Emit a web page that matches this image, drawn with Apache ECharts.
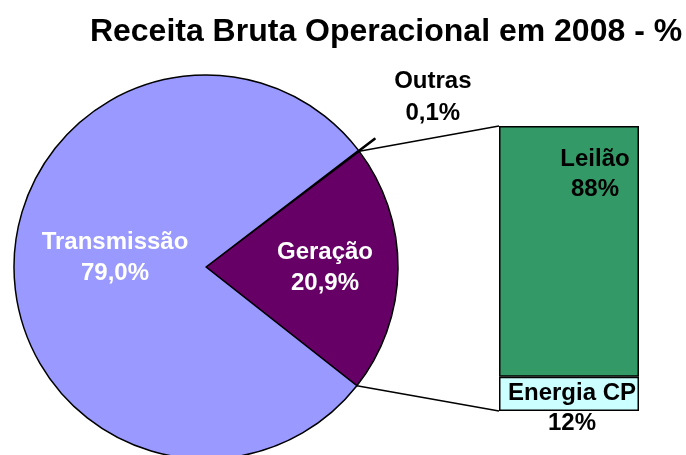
<!DOCTYPE html>
<html>
<head>
<meta charset="utf-8">
<script src="https://cdn.jsdelivr.net/npm/echarts@6/dist/echarts.min.js"></script>
<style>
  html, body { margin: 0; padding: 0; background: #fff; }
  #main { width: 686px; height: 455px; }
</style>
</head>
<body>
<div id="main"></div>
<script>
  // pie data (order = drawing order, clockwise from startAngle)
  var pieNames = ['Outras', 'Geração', 'Transmissão'];
  var pieValues = [0.1, 20.9, 79.0];
  var pieColors = ['#993366', '#660066', '#9999FF'];

  // bar data (bottom to top)
  var barNames = ['Energia CP', 'Leilão'];
  var barValues = [12, 88];
  var barColors = ['#CCFFFF', '#339966'];

  var font = '"Liberation Sans", Arial, sans-serif';
  var pieCenter = [206, 267];
  var pieRadius = 192;
  var startAngle = 37.4;
  var barGrid = {left: 499, top: 126, width: 140, height: 285};

  var myChart = echarts.init(document.getElementById('main'));

  function pctLabel (v) {
    return v.toFixed(1).replace('.', ',') + '%';
  }

  var labelRich = {
    w: {fontFamily: font, fontSize: 24, fontWeight: 'bold', lineHeight: 31, color: '#fff'},
    s: {fontSize: 4, lineHeight: 17}
  };

  // per-slice label tweaks
  var pieLabels = {
    'Outras': {
      position: 'outside',
      color: '#000',
      padding: [0, 0, 82, 8],
      formatter: function (p) {
        return '{a|' + p.name + '}\n{a|' + pctLabel(p.value) + '}';
      },
      rich: {a: {width: 90, align: 'center', fontSize: 24, fontWeight: 'bold', lineHeight: 32, color: '#000', fontFamily: font}}
    },
    'Geração': {position: 'inside', color: '#fff', padding: [0, 0, 0, 40]},
    'Transmissão': {
      position: 'inside',
      padding: [0, 0, 0, 16],
      formatter: function (p) {
        return '{w|' + p.name + '}\n{w|' + pctLabel(p.value) + '}\n{s| }';
      },
      rich: labelRich
    }
  };

  var pieData = pieNames.map(function (n, i) {
    return {
      name: n,
      value: pieValues[i],
      selected: n === 'Outras',
      itemStyle: {color: pieColors[i]},
      label: pieLabels[n]
    };
  });

  var barSeries = barNames.map(function (n, i) {
    var isTop = i === barNames.length - 1;
    return {
      name: n,
      type: 'bar',
      stack: 'cp',
      xAxisIndex: 0,
      yAxisIndex: 0,
      barWidth: '100%',
      data: [barValues[i]],
      itemStyle: {color: barColors[i], borderColor: '#000', borderWidth: 1.5},
      label: {
        show: true,
        position: isTop ? [96, 18] : 'inside',
        offset: isTop ? [0, 0] : [3, 14],
        align: 'center',
        verticalAlign: isTop ? 'top' : 'middle',
        color: '#000',
        fontFamily: font,
        fontSize: 24,
        fontWeight: 'bold',
        lineHeight: 30,
        formatter: function (p) {
          return p.seriesName + '\n' + p.value + '%';
        }
      }
    };
  });

  // connector lines from the Geração slice edges to the bar corners
  var a1 = (startAngle - 360 * pieValues[0] / 100) * Math.PI / 180;
  var a2 = a1 - (360 * pieValues[1] / 100) * Math.PI / 180;
  function piePoint (a) {
    return [pieCenter[0] + pieRadius * Math.cos(a), pieCenter[1] - pieRadius * Math.sin(a)];
  }
  var p1 = piePoint(a1);
  var p2 = piePoint(a2);

  myChart.setOption({
    animation: false,
    title: {
      text: 'Receita Bruta Operacional em 2008 - %',
      left: 381,
      top: 11,
      textAlign: 'center',
      textStyle: {fontFamily: font, fontSize: 32, fontWeight: 'bold', color: '#000'}
    },
    grid: {left: barGrid.left, top: barGrid.top, width: barGrid.width, height: barGrid.height},
    xAxis: {type: 'category', data: ['CP'], show: false},
    yAxis: {type: 'value', min: 0, max: 100, show: false},
    graphic: [
      {type: 'line', shape: {x1: p1[0], y1: p1[1], x2: barGrid.left, y2: barGrid.top}, style: {stroke: '#000', lineWidth: 1.5}, z: 0},
      {type: 'line', shape: {x1: p2[0], y1: p2[1], x2: barGrid.left, y2: barGrid.top + barGrid.height}, style: {stroke: '#000', lineWidth: 1.5}, z: 0}
    ],
    series: [
      {
        type: 'pie',
        center: pieCenter,
        radius: pieRadius,
        startAngle: startAngle,
        clockwise: true,
        selectedMode: 'single',
        selectedOffset: 20,
        avoidLabelOverlap: false,
        minAngle: 0,
        emphasis: {disabled: true},
        itemStyle: {borderColor: '#000', borderWidth: 1.5},
        label: {
          show: true,
          fontFamily: font,
          fontSize: 24,
          fontWeight: 'bold',
          lineHeight: 31,
          formatter: function (p) {
            return p.name + '\n' + pctLabel(p.value);
          }
        },
        labelLine: {show: false, length: 0, length2: 0},
        data: pieData
      }
    ].concat(barSeries)
  });
</script>
</body>
</html>
